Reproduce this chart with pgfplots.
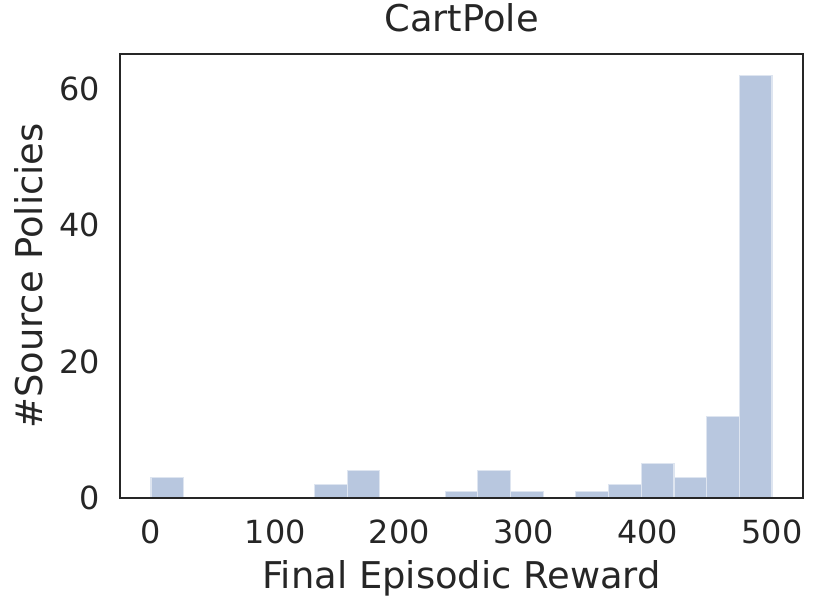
\documentclass[border=0pt]{standalone}
\usepackage{fontspec}
\setmainfont{DejaVu Sans}
\usepackage{pgfplots}
\pgfplotsset{compat=1.18}
\definecolor{txt}{HTML}{262626}
\definecolor{barfill}{RGB}{184,199,223}
\definecolor{baredge}{RGB}{222,229,240}
\begin{document}
\begin{tikzpicture}
\useasboundingbox (-60bp,-56bp) rectangle (355bp,249bp);
\begin{axis}[
  at={(0,0)}, anchor=south west,
  scale only axis,
  width=341.5bp, height=222bp,
  xmin=-25, xmax=525, ymin=0, ymax=65.1,
  xtick={0,100,200,300,400,500},
  ytick={0,20,40,60},
  major tick length=0pt,
  axis line style={draw=txt, line width=1.35bp},
  axis on top,
  /pgf/number format/assume math mode=true,
  tick label style={font=\fontsize{16}{19}\selectfont, text=txt},
  xticklabel style={anchor=base, yshift=-22.5bp, inner sep=0pt},
  yticklabel style={anchor=east, xshift=-10bp, inner sep=0pt},
  title={CartPole},
  title style={font=\fontsize{18.5}{22}\selectfont, text=txt, at={(axis description cs:0.5,1)}, anchor=base, yshift=5.5bp, inner sep=0pt},
  xlabel={Final Episodic Reward},
  xlabel style={font=\fontsize{18.5}{22}\selectfont, text=txt, at={(axis description cs:0.5,0)}, anchor=base, yshift=-45bp, inner sep=0pt},
  ylabel={\#Source Policies},
  ylabel style={font=\fontsize{18.5}{22}\selectfont, text=txt, at={(axis description cs:-0.1142,0.5)}, anchor=base, inner sep=0pt},
]
\addplot[ybar interval, fill=barfill, draw=baredge, line width=0.6bp] coordinates {
(0,3) (26.3158,0) (52.6316,0) (78.9474,0) (105.263,0) (131.579,2)
(157.895,4) (184.211,0) (210.526,0) (236.842,1) (263.158,4) (289.474,1)
(315.789,0) (342.105,1) (368.421,2) (394.737,5) (421.053,3) (447.368,12)
(473.684,62) (500,0)
};
\end{axis}
\end{tikzpicture}
\end{document}
